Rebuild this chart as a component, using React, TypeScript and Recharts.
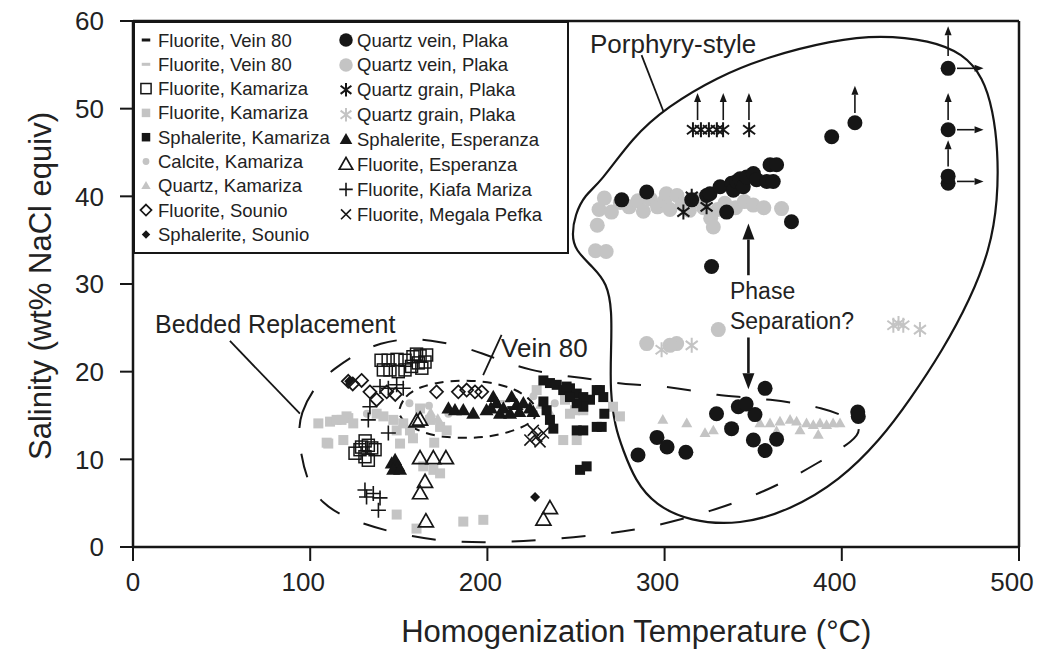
import React from "react";
import {
  ComposedChart,
  Scatter,
  Line,
  XAxis,
  YAxis,
  ReferenceLine,
  Legend,
} from "recharts";

type Pt = { x: number; y: number };
type Kind =
  | "circle"
  | "square"
  | "squareOpen"
  | "triangle"
  | "triangleOpen"
  | "diamond"
  | "diamondOpen"
  | "plus"
  | "cross"
  | "asterisk"
  | "dash";

const BLACK = "#161616";
const GREY = "#c4c4c4";
const FONT = '"Liberation Sans", Arial, Helvetica, sans-serif';

const xTicks = [0, 100, 200, 300, 400, 500];
const yTicks = [0, 10, 20, 30, 40, 50, 60];

// ---- series (temperature °C, salinity wt% NaCl equiv) ----
const fluoriteVein80Black: Pt[] = [
  { x: 204, y: 16.2 }, { x: 214, y: 15.9 },
];
const fluoriteVein80Grey: Pt[] = [
  { x: 210, y: 16.6 }, { x: 222, y: 16.0 },
];
const fluoriteKamarizaOpen: Pt[] = [
  { x: 140, y: 21.3 }, { x: 144, y: 21.3 }, { x: 149, y: 21.4 }, { x: 153.5, y: 21.3 },
  { x: 158, y: 21.7 }, { x: 162, y: 21.8 }, { x: 165.7, y: 21.9 }, { x: 141.3, y: 20.2 },
  { x: 145, y: 20.2 }, { x: 149.7, y: 20.0 }, { x: 153.5, y: 20.2 }, { x: 157.2, y: 20.6 },
  { x: 161, y: 21.0 }, { x: 164.8, y: 21.1 }, { x: 160, y: 22.0 }, { x: 163, y: 20.4 },
  { x: 125.3, y: 10.7 }, { x: 129, y: 11.4 }, { x: 132.8, y: 11.6 }, { x: 134.7, y: 11.3 },
  { x: 130.9, y: 10.3 }, { x: 132.8, y: 9.9 }, { x: 136.6, y: 11.1 }, { x: 128.1, y: 11.1 },
  { x: 131, y: 12.1 },
];
const fluoriteKamarizaGrey: Pt[] = [
  { x: 104.6, y: 14.1 }, { x: 111.2, y: 14.3 }, { x: 117.7, y: 14.5 }, { x: 121.5, y: 14.7 },
  { x: 110.2, y: 11.8 }, { x: 118.7, y: 12.2 }, { x: 114.9, y: 14.5 }, { x: 120.5, y: 14.9 },
  { x: 124.3, y: 14.1 }, { x: 137.5, y: 15.2 }, { x: 141.3, y: 14.9 }, { x: 146.9, y: 14.5 },
  { x: 148.8, y: 13.3 }, { x: 152.5, y: 14.1 }, { x: 156.3, y: 13.3 }, { x: 167.6, y: 14.5 },
  { x: 173.3, y: 13.7 }, { x: 177, y: 13.3 }, { x: 150.7, y: 11.8 }, { x: 163.8, y: 9.2 },
  { x: 169.5, y: 8.8 }, { x: 173.3, y: 8.4 }, { x: 148.8, y: 3.7 }, { x: 160, y: 2.1 },
  { x: 186.4, y: 2.9 }, { x: 197.7, y: 3.1 }, { x: 242.8, y: 12.2 }, { x: 250.4, y: 12.2 },
  { x: 246.6, y: 15.2 }, { x: 254.1, y: 15.6 }, { x: 227.8, y: 17.9 }, { x: 243.8, y: 16.8 },
  { x: 249.4, y: 15.6 }, { x: 270.9, y: 16.0 }, { x: 274.8, y: 14.9 }, { x: 109.3, y: 11.9 },
  { x: 162, y: 15.8 }, { x: 158, y: 12.4 }, { x: 170, y: 11.9 },
];
const sphaleriteKamariza: Pt[] = [
  { x: 231.6, y: 19.0 }, { x: 235.3, y: 18.7 }, { x: 239.1, y: 18.5 }, { x: 242.8, y: 17.9 },
  { x: 246.6, y: 18.1 }, { x: 250.4, y: 17.5 }, { x: 254.1, y: 17.1 }, { x: 257.9, y: 16.8 },
  { x: 254.1, y: 16.0 }, { x: 250.4, y: 16.4 }, { x: 246.6, y: 17.1 }, { x: 261.7, y: 17.9 },
  { x: 233.4, y: 15.6 }, { x: 235.3, y: 14.5 }, { x: 237.2, y: 13.5 }, { x: 231.6, y: 16.6 },
  { x: 250.4, y: 13.3 }, { x: 254.1, y: 13.3 }, { x: 252.3, y: 8.8 }, { x: 256, y: 9.2 },
  { x: 261.7, y: 13.7 }, { x: 244.7, y: 18.3 }, { x: 263.5, y: 17.9 }, { x: 265.4, y: 17.1 },
  { x: 264.5, y: 13.7 }, { x: 266, y: 15.2 },
];
const calciteKamariza: Pt[] = [
  { x: 156, y: 16.4 }, { x: 167, y: 16.1 }, { x: 178, y: 15.2 }, { x: 226, y: 17.2 },
  { x: 238, y: 16.4 }, { x: 132, y: 15.2 },
];
const quartzKamariza: Pt[] = [
  { x: 312.5, y: 14.1 }, { x: 322.8, y: 13.0 }, { x: 327.5, y: 13.3 }, { x: 353.8, y: 14.1 },
  { x: 359.5, y: 14.1 }, { x: 365.1, y: 14.3 }, { x: 370.8, y: 14.5 }, { x: 374.5, y: 14.3 },
  { x: 380.1, y: 14.1 }, { x: 383.9, y: 13.9 }, { x: 387.7, y: 14.1 }, { x: 391.4, y: 13.9 },
  { x: 395.1, y: 14.1 }, { x: 399, y: 14.1 }, { x: 386.7, y: 12.8 }, { x: 376.4, y: 13.3 },
  { x: 363.2, y: 13.2 }, { x: 230, y: 16.2 }, { x: 235, y: 15.4 }, { x: 168, y: 15.3 },
  { x: 172, y: 14.6 }, { x: 299, y: 14.5 },
];
const fluoriteSounio: Pt[] = [
  { x: 121.5, y: 18.9 }, { x: 129, y: 19.0 }, { x: 133.7, y: 17.7 }, { x: 137.5, y: 16.8 },
  { x: 143.2, y: 17.7 }, { x: 148, y: 17.4 }, { x: 171.3, y: 17.7 }, { x: 183.6, y: 17.7 },
  { x: 188.3, y: 17.9 }, { x: 193, y: 17.7 }, { x: 196.8, y: 17.7 }, { x: 124, y: 18.6 },
];
const sphaleriteSounio: Pt[] = [
  { x: 122, y: 18.9 }, { x: 226.9, y: 5.7 },
];
const quartzVeinBlack: Pt[] = [
  { x: 275.8, y: 39.6 }, { x: 289.9, y: 40.5 }, { x: 315.3, y: 39.6 }, { x: 323.7, y: 40.1 },
  { x: 325.6, y: 40.3 }, { x: 331.3, y: 41.1 }, { x: 335, y: 38.2 }, { x: 337.8, y: 41.5 },
  { x: 338.8, y: 40.7 }, { x: 340.6, y: 41.7 }, { x: 342.6, y: 42.0 }, { x: 344.4, y: 41.1 },
  { x: 346.3, y: 42.2 }, { x: 350.1, y: 42.6 }, { x: 351.9, y: 41.9 }, { x: 357.6, y: 41.7 },
  { x: 361.3, y: 41.7 }, { x: 359.5, y: 43.6 }, { x: 363.2, y: 43.6 }, { x: 371.6, y: 37.1 },
  { x: 326.5, y: 32.0 }, { x: 394.3, y: 46.8 }, { x: 407.4, y: 48.4 }, { x: 460, y: 54.6 },
  { x: 460, y: 47.6 }, { x: 460, y: 41.5 }, { x: 460, y: 42.3 },
  { x: 356.7, y: 18.1 }, { x: 341.6, y: 16.0 }, { x: 329.3, y: 15.2 }, { x: 351, y: 15.1 },
  { x: 337.8, y: 13.5 }, { x: 350.1, y: 12.2 }, { x: 363.2, y: 12.3 }, { x: 356.7, y: 11.0 },
  { x: 285, y: 10.5 }, { x: 295.7, y: 12.5 }, { x: 301.4, y: 11.4 }, { x: 312, y: 10.8 },
  { x: 409.3, y: 14.9 }, { x: 409, y: 15.4 }, { x: 346, y: 16.3 },
];
const quartzVeinGrey: Pt[] = [
  { x: 263, y: 38.5 }, { x: 266, y: 39.8 }, { x: 270, y: 38.2 }, { x: 275, y: 39.3 },
  { x: 280, y: 38.8 }, { x: 285, y: 39.5 }, { x: 288, y: 38.3 }, { x: 292, y: 39.7 },
  { x: 296, y: 38.8 }, { x: 300, y: 39.5 }, { x: 301, y: 40.3 }, { x: 303, y: 38.5 },
  { x: 307, y: 40.1 }, { x: 310, y: 39.1 }, { x: 314, y: 38.4 }, { x: 318, y: 39.6 },
  { x: 322, y: 38.7 }, { x: 326, y: 37.5 }, { x: 327.5, y: 36.5 }, { x: 330, y: 38.5 },
  { x: 334, y: 39.2 }, { x: 340, y: 38.7 }, { x: 345, y: 39.4 }, { x: 350, y: 39.0 },
  { x: 356, y: 38.7 }, { x: 366, y: 38.6 }, { x: 262, y: 36.7 }, { x: 261, y: 33.8 },
  { x: 267, y: 33.7 }, { x: 289.9, y: 23.2 }, { x: 306.8, y: 23.2 }, { x: 330.3, y: 24.8 },
  { x: 303, y: 23.0 },
];
const quartzGrainBlack: Pt[] = [
  { x: 316, y: 47.6 }, { x: 320.5, y: 47.6 }, { x: 325, y: 47.6 }, { x: 329.5, y: 47.6 },
  { x: 333, y: 47.6 }, { x: 347.7, y: 47.6 }, { x: 310.6, y: 38.2 }, { x: 315.3, y: 40.0 },
  { x: 323.7, y: 38.8 },
];
const quartzGrainGrey: Pt[] = [
  { x: 298.3, y: 22.5 }, { x: 315.3, y: 23.0 }, { x: 429.1, y: 25.3 }, { x: 432, y: 25.5 },
  { x: 434.7, y: 25.3 }, { x: 444.1, y: 24.8 },
];
const sphaleriteEsperanza: Pt[] = [
  { x: 178, y: 15.8 }, { x: 181.7, y: 15.6 }, { x: 186.4, y: 15.6 }, { x: 192, y: 15.2 },
  { x: 199.5, y: 15.6 }, { x: 203.3, y: 17.1 }, { x: 205.2, y: 16.4 }, { x: 207.1, y: 15.2 },
  { x: 209, y: 15.8 }, { x: 212.8, y: 15.2 }, { x: 213.7, y: 17.1 }, { x: 216.5, y: 16.2 },
  { x: 220.3, y: 16.4 }, { x: 224, y: 15.8 }, { x: 225.9, y: 15.4 }, { x: 202, y: 15.8 },
  { x: 218, y: 15.4 }, { x: 146, y: 9.5 }, { x: 147.9, y: 9.9 }, { x: 149.7, y: 9.2 },
  { x: 146.8, y: 8.8 }, { x: 150.7, y: 8.8 },
];
const fluoriteEsperanza: Pt[] = [
  { x: 160, y: 14.3 }, { x: 162, y: 14.5 }, { x: 162, y: 10.1 }, { x: 169.5, y: 10.1 },
  { x: 176.6, y: 10.1 }, { x: 164.8, y: 7.4 }, { x: 162, y: 6.1 }, { x: 165.3, y: 2.9 },
  { x: 235.3, y: 4.4 }, { x: 231.6, y: 3.1 },
];
const fluoriteKiafaMariza: Pt[] = [
  { x: 139.4, y: 18.3 }, { x: 144.1, y: 18.1 }, { x: 148.8, y: 18.5 }, { x: 152.5, y: 18.1 },
  { x: 133.7, y: 16.0 }, { x: 132.8, y: 14.5 }, { x: 144.1, y: 13.0 }, { x: 130.9, y: 6.5 },
  { x: 135.6, y: 6.1 }, { x: 139.4, y: 5.6 }, { x: 138.5, y: 4.2 }, { x: 131.8, y: 5.7 },
];
const fluoriteMegalaPefka: Pt[] = [
  { x: 224, y: 12.2 }, { x: 227.8, y: 12.6 }, { x: 231.6, y: 13.0 }, { x: 225.9, y: 13.3 },
  { x: 229.7, y: 12.0 },
];

// ---- hand-drawn field outlines ----
const porphyryOutline: Pt[] = [
  { x: 263.5, y: 41.5 }, { x: 282.2, y: 46.8 }, { x: 301.4, y: 50.2 }, { x: 329.6, y: 53.6 },
  { x: 357.8, y: 55.9 }, { x: 395, y: 57.8 }, { x: 421.6, y: 58.4 }, { x: 449.8, y: 57.8 },
  { x: 468.4, y: 56.3 }, { x: 479.7, y: 53.6 }, { x: 485.3, y: 49.8 }, { x: 488.1, y: 45.3 },
  { x: 488.1, y: 39.6 }, { x: 483.6, y: 33.9 }, { x: 472.3, y: 28.2 }, { x: 457.1, y: 22.5 },
  { x: 438.5, y: 16.8 }, { x: 421.6, y: 12.2 }, { x: 399, y: 7.6 }, { x: 370.8, y: 4.2 },
  { x: 342.6, y: 2.5 }, { x: 314.3, y: 2.9 }, { x: 294.6, y: 4.8 }, { x: 283.3, y: 7.6 },
  { x: 276.5, y: 11.1 }, { x: 272, y: 13.7 }, { x: 269.2, y: 17.9 }, { x: 269.8, y: 22.5 },
  { x: 270.3, y: 27.0 }, { x: 267.5, y: 30.1 }, { x: 259.6, y: 31.9 }, { x: 249.4, y: 33.9 },
  { x: 247.7, y: 35.6 }, { x: 249.4, y: 37.9 }, { x: 255.1, y: 40.2 },
];
const beddedOutline: Pt[] = [
  { x: 93.1, y: 12.2 }, { x: 94.2, y: 15.3 }, { x: 103.8, y: 18.7 }, { x: 114, y: 20.4 },
  { x: 126.4, y: 22.1 }, { x: 139.4, y: 23.3 }, { x: 155.2, y: 23.8 }, { x: 167.6, y: 23.6 },
  { x: 183.4, y: 23.0 }, { x: 197, y: 22.1 }, { x: 211.1, y: 21.0 }, { x: 224, y: 20.2 },
  { x: 239.8, y: 19.6 }, { x: 253.4, y: 19.3 }, { x: 269.2, y: 18.8 }, { x: 282.2, y: 18.5 },
  { x: 297.4, y: 18.4 }, { x: 314.3, y: 17.9 }, { x: 329.6, y: 17.3 }, { x: 345.4, y: 17.1 },
  { x: 359.5, y: 16.8 }, { x: 374.7, y: 16.4 }, { x: 387.7, y: 15.9 }, { x: 402.9, y: 14.9 },
  { x: 411.4, y: 13.6 }, { x: 407.4, y: 12.2 }, { x: 387.7, y: 9.7 }, { x: 359.5, y: 6.5 },
  { x: 325.6, y: 4.0 }, { x: 291.8, y: 2.2 }, { x: 263.5, y: 1.4 }, { x: 233.6, y: 0.8 },
  { x: 204.3, y: 0.5 }, { x: 174.9, y: 0.6 }, { x: 146.2, y: 1.6 }, { x: 119.6, y: 3.3 },
  { x: 106.7, y: 5.0 }, { x: 98.2, y: 7.3 },
];
const vein80Outline: Pt[] = [
  { x: 149, y: 15.4 }, { x: 153.5, y: 17.3 }, { x: 162, y: 18.3 }, { x: 177.2, y: 19.0 },
  { x: 197.5, y: 19.0 }, { x: 216.7, y: 18.1 }, { x: 228, y: 16.2 }, { x: 228, y: 14.7 },
  { x: 220.1, y: 13.6 }, { x: 205.4, y: 12.7 }, { x: 191.9, y: 12.4 }, { x: 174.9, y: 12.5 },
  { x: 162, y: 13.1 }, { x: 152.4, y: 14.3 },
];

// ---- arrows, leaders and labels ----
const upArrows = [
  { x: 318.6, y0: 48.7, y1: 51.8 }, { x: 333.1, y0: 48.7, y1: 51.8 },
  { x: 347.6, y0: 48.7, y1: 51.8 }, { x: 407.4, y0: 49.5, y1: 52.6 },
  { x: 460, y0: 56.0, y1: 59.4 }, { x: 460, y0: 48.7, y1: 51.8 },
  { x: 460, y0: 43.4, y1: 46.4 },
];
const rightArrows = [
  { y: 54.6, x0: 465, x1: 480 }, { y: 47.6, x0: 465, x1: 480 }, { y: 41.7, x0: 465, x1: 480 },
];
const phaseArrows = [
  { x: 347.3, y0: 31.0, y1: 36.9 }, { x: 347.3, y0: 23.9, y1: 18.0 },
];
const leaders = [
  { x0: 287, y0: 56.1, x1: 299.3, y1: 49.7 },
  { x0: 54.7, y0: 23.5, x1: 94.2, y1: 15.2 },
  { x0: 208, y0: 24.2, x1: 197.6, y1: 19.6 },
];
const annotations = [
  { x: 257.9, y: 56.4, text: "Porphyry-style", size: 26 },
  { x: 12.4, y: 24.4, text: "Bedded Replacement", size: 25 },
  { x: 207.7, y: 21.7, text: "Vein 80", size: 26 },
  { x: 336.9, y: 28.3, text: "Phase", size: 23 },
  { x: 336.9, y: 24.9, text: "Separation?", size: 23 },
];

type Series = {
  key: string;
  label: string;
  data: Pt[];
  kind: Kind;
  color: string;
  size: number;
  sw?: number;
};

const S = {
  v80b: { key: "v80b", label: "Fluorite, Vein 80", data: fluoriteVein80Black, kind: "dash", color: BLACK, size: 10 },
  v80g: { key: "v80g", label: "Fluorite, Vein 80", data: fluoriteVein80Grey, kind: "dash", color: GREY, size: 10 },
  fko: { key: "fko", label: "Fluorite, Kamariza", data: fluoriteKamarizaOpen, kind: "squareOpen", color: BLACK, size: 12, sw: 1.5 },
  fkg: { key: "fkg", label: "Fluorite, Kamariza", data: fluoriteKamarizaGrey, kind: "square", color: GREY, size: 10 },
  sk: { key: "sk", label: "Sphalerite, Kamariza", data: sphaleriteKamariza, kind: "square", color: BLACK, size: 10 },
  ck: { key: "ck", label: "Calcite, Kamariza", data: calciteKamariza, kind: "circle", color: GREY, size: 8 },
  qk: { key: "qk", label: "Quartz, Kamariza", data: quartzKamariza, kind: "triangle", color: GREY, size: 11 },
  fs: { key: "fs", label: "Fluorite, Sounio", data: fluoriteSounio, kind: "diamondOpen", color: BLACK, size: 13, sw: 1.7 },
  ss: { key: "ss", label: "Sphalerite, Sounio", data: sphaleriteSounio, kind: "diamond", color: BLACK, size: 10 },
  qvb: { key: "qvb", label: "Quartz vein, Plaka", data: quartzVeinBlack, kind: "circle", color: BLACK, size: 15 },
  qvg: { key: "qvg", label: "Quartz vein, Plaka", data: quartzVeinGrey, kind: "circle", color: GREY, size: 15 },
  qgb: { key: "qgb", label: "Quartz grain, Plaka", data: quartzGrainBlack, kind: "asterisk", color: BLACK, size: 15, sw: 2 },
  qgg: { key: "qgg", label: "Quartz grain, Plaka", data: quartzGrainGrey, kind: "asterisk", color: GREY, size: 15, sw: 2 },
  se: { key: "se", label: "Sphalerite, Esperanza", data: sphaleriteEsperanza, kind: "triangle", color: BLACK, size: 14 },
  fe: { key: "fe", label: "Fluorite, Esperanza", data: fluoriteEsperanza, kind: "triangleOpen", color: BLACK, size: 15, sw: 1.7 },
  fkm: { key: "fkm", label: "Fluorite, Kiafa Mariza", data: fluoriteKiafaMariza, kind: "plus", color: BLACK, size: 15, sw: 1.6 },
  fmp: { key: "fmp", label: "Fluorite, Megala Pefka", data: fluoriteMegalaPefka, kind: "cross", color: BLACK, size: 13, sw: 1.6 },
} as Record<string, Series>;

const legendLeft = [S.v80b, S.v80g, S.fko, S.fkg, S.sk, S.ck, S.qk, S.fs, S.ss];
const legendRight = [S.qvb, S.qvg, S.qgb, S.qgg, S.se, S.fe, S.fkm, S.fmp];
const drawOrder = [
  S.fkg, S.ck, S.qk, S.v80g, S.qvg, S.qgg, S.fko, S.fs, S.fe, S.fkm, S.fmp,
  S.sk, S.se, S.v80b, S.ss, S.qvb, S.qgb,
];

function drawMarker(kind: Kind, cx: number, cy: number, s: number, color: string, sw = 1.6) {
  const h = s / 2;
  switch (kind) {
    case "circle":
      return <circle cx={cx} cy={cy} r={h} fill={color} />;
    case "square":
      return <rect x={cx - h} y={cy - h} width={s} height={s} fill={color} />;
    case "squareOpen":
      return <rect x={cx - h} y={cy - h} width={s} height={s} fill="none" stroke={color} strokeWidth={sw} />;
    case "triangle":
    case "triangleOpen": {
      const pts = `${cx},${cy - h * 1.05} ${cx + h},${cy + h * 0.7} ${cx - h},${cy + h * 0.7}`;
      return kind === "triangle" ? (
        <polygon points={pts} fill={color} />
      ) : (
        <polygon points={pts} fill="none" stroke={color} strokeWidth={sw} strokeLinejoin="miter" />
      );
    }
    case "diamond":
    case "diamondOpen": {
      const pts = `${cx},${cy - h} ${cx + h},${cy} ${cx},${cy + h} ${cx - h},${cy}`;
      return kind === "diamond" ? (
        <polygon points={pts} fill={color} />
      ) : (
        <polygon points={pts} fill="none" stroke={color} strokeWidth={sw} />
      );
    }
    case "plus":
      return (
        <path d={`M${cx - h},${cy}H${cx + h}M${cx},${cy - h}V${cy + h}`} stroke={color} strokeWidth={sw} fill="none" />
      );
    case "cross": {
      const k = h * 0.85;
      return (
        <path d={`M${cx - k},${cy - k}L${cx + k},${cy + k}M${cx - k},${cy + k}L${cx + k},${cy - k}`} stroke={color} strokeWidth={sw} fill="none" />
      );
    }
    case "asterisk": {
      const dx = h * 0.8;
      const dy = h * 0.6;
      return (
        <path
          d={`M${cx},${cy - h}V${cy + h}M${cx - dx},${cy - dy}L${cx + dx},${cy + dy}M${cx - dx},${cy + dy}L${cx + dx},${cy - dy}`}
          stroke={color}
          strokeWidth={sw}
          fill="none"
        />
      );
    }
    case "dash":
      return <rect x={cx - h} y={cy - 1.5} width={s} height={3} fill={color} />;
  }
  return null;
}

const arrowShape = (w: number, head: number, len: number) => (props: any) => {
  const { x1, y1, x2, y2 } = props;
  const dx = x2 - x1;
  const dy = y2 - y1;
  const L = Math.hypot(dx, dy) || 1;
  const ux = dx / L;
  const uy = dy / L;
  const bx = x2 - ux * len;
  const by = y2 - uy * len;
  const px = (-uy * head) / 2;
  const py = (ux * head) / 2;
  return (
    <g>
      <line x1={x1} y1={y1} x2={bx} y2={by} stroke={BLACK} strokeWidth={w} />
      <polygon points={`${x2},${y2} ${bx + px},${by + py} ${bx - px},${by - py}`} fill={BLACK} />
    </g>
  );
};

// x tick labels sit a little left of their ticks in the original
const XTick = (props: any) => {
  const { x, y, payload } = props;
  const shift = payload.value === 0 ? 0 : -7;
  return (
    <text x={x + shift} y={y} dy="0.71em" textAnchor="middle" fontSize={26} fill="#222" fontFamily={FONT}>
      {payload.value}
    </text>
  );
};

const renderLegend = () => {
  const rowsL = legendLeft.map((s, i) => ({ s, y: 19 + i * 24.3 }));
  const rowsR = legendRight.map((s, i) => ({ s, y: 19 + i * 24.9 }));
  return (
    <svg width={436} height={233} style={{ display: "block" }}>
      <rect x={1} y={1} width={434} height={231} fill="#fff" stroke={BLACK} strokeWidth={2} />
      {rowsL.map(({ s, y }, i) => (
        <g key={"l" + i}>
          {drawMarker(s.kind, 13, y, s.size * 0.85, s.color, s.sw)}
          <text x={25} y={y} dominantBaseline="central" fontSize={18.5} fill="#222" fontFamily={FONT}>
            {s.label}
          </text>
        </g>
      ))}
      {rowsR.map(({ s, y }, i) => (
        <g key={"r" + i}>
          {drawMarker(s.kind, 213, y, s.size * 0.9, s.color, s.sw)}
          <text x={224} y={y} dominantBaseline="central" fontSize={18.5} fill="#222" fontFamily={FONT}>
            {s.label}
          </text>
        </g>
      ))}
    </svg>
  );
};

export default function App() {
  return (
    <div style={{ position: "absolute", left: 0, top: 0, width: 1038, height: 651, background: "#fff" }}>
      <ComposedChart
        width={1038}
        height={651}
        margin={{ top: 21, right: 19, bottom: 0, left: 0 }}
        style={{ fontFamily: FONT }}
      >
        <XAxis
          type="number"
          dataKey="x"
          domain={[0, 500]}
          ticks={xTicks}
          allowDataOverflow
          height={104}
          tickSize={14}
          tickMargin={12}
          tick={<XTick />}
          axisLine={{ stroke: BLACK, strokeWidth: 2.5 }}
          tickLine={{ stroke: BLACK, strokeWidth: 2 }}
          label={{
            content: (p: any) => {
              const vb = p.viewBox || { x: 133, y: 547, width: 886, height: 104 };
              return (
                <text x={vb.x + vb.width * 0.568} y={vb.y + vb.height - 9} textAnchor="middle" fontSize={31} fill="#222" fontFamily={FONT}>
                  Homogenization Temperature (°C)
                </text>
              );
            },
          }}
        />
        <YAxis
          type="number"
          dataKey="y"
          domain={[0, 60]}
          ticks={yTicks}
          allowDataOverflow
          width={133}
          tickSize={13}
          tickMargin={16}
          tick={{ fontSize: 26, fill: "#222", fontFamily: FONT }}
          axisLine={{ stroke: BLACK, strokeWidth: 2.5 }}
          tickLine={{ stroke: BLACK, strokeWidth: 2 }}
          label={{
            content: (p: any) => {
              const vb = p.viewBox || { x: 0, y: 21, width: 133, height: 526 };
              return (
                <text
                  transform={`translate(40, ${vb.y + vb.height / 2 + 2}) rotate(-90)`}
                  textAnchor="middle"
                  dominantBaseline="central"
                  fontSize={31}
                  fill="#222"
                  fontFamily={FONT}
                >
                  Salinity (wt% NaCl equiv)
                </text>
              );
            },
          }}
        />
        <ReferenceLine y={60} stroke={BLACK} strokeWidth={2.5} />
        <ReferenceLine x={500} stroke={BLACK} strokeWidth={2.5} />

        <Line data={beddedOutline} dataKey="y" type="basisClosed" stroke={BLACK} strokeWidth={2} strokeDasharray="24 26" dot={false} activeDot={false} isAnimationActive={false} />
        <Line data={vein80Outline} dataKey="y" type="basisClosed" stroke={BLACK} strokeWidth={2} strokeDasharray="9 7" dot={false} activeDot={false} isAnimationActive={false} />
        <Line data={porphyryOutline} dataKey="y" type="basisClosed" stroke={BLACK} strokeWidth={2.2} dot={false} activeDot={false} isAnimationActive={false} />

        {drawOrder.map((s) => (
          <Scatter
            key={s.key}
            name={s.label}
            data={s.data}
            isAnimationActive={false}
            shape={(p: any) => drawMarker(s.kind, p.cx, p.cy, s.size, s.color, s.sw)}
          />
        ))}

        {leaders.map((l, i) => (
          <ReferenceLine key={"ld" + i} segment={[{ x: l.x0, y: l.y0 }, { x: l.x1, y: l.y1 }]} stroke={BLACK} strokeWidth={1.8} />
        ))}
        {upArrows.map((a, i) => (
          <ReferenceLine key={"ua" + i} segment={[{ x: a.x, y: a.y0 }, { x: a.x, y: a.y1 }]} shape={arrowShape(1.6, 7, 9)} />
        ))}
        {rightArrows.map((a, i) => (
          <ReferenceLine key={"ra" + i} segment={[{ x: a.x0, y: a.y }, { x: a.x1, y: a.y }]} shape={arrowShape(1.6, 7, 9)} />
        ))}
        {phaseArrows.map((a, i) => (
          <ReferenceLine key={"pa" + i} segment={[{ x: a.x, y: a.y0 }, { x: a.x, y: a.y1 }]} shape={arrowShape(2.6, 12, 16)} />
        ))}

        <Scatter
          data={annotations}
          isAnimationActive={false}
          shape={(p: any) => (
            <text x={p.cx} y={p.cy} fontSize={p.payload.size} fill="#222" fontFamily={FONT}>
              {p.payload.text}
            </text>
          )}
        />

        <Legend
          layout="horizontal"
          verticalAlign="middle"
          align="center"
          content={renderLegend}
          wrapperStyle={{ left: 133, top: 21, width: 436, height: 233 }}
        />
      </ComposedChart>
    </div>
  );
}
